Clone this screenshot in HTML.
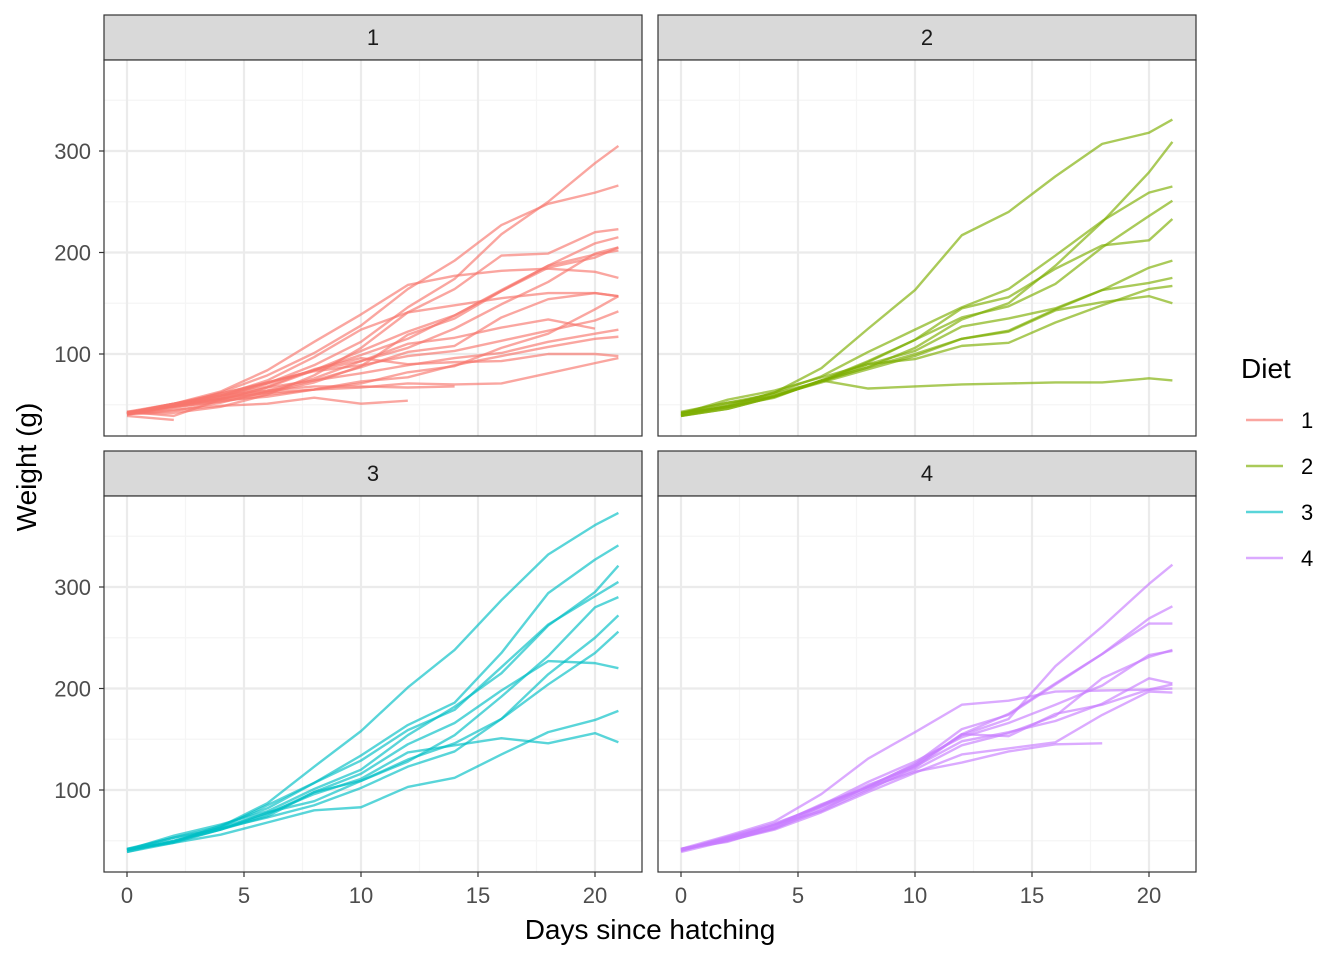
<!DOCTYPE html>
<html><head><meta charset="utf-8"><style>body{margin:0;background:#fff}svg{display:block}text{font-family:"Liberation Sans",sans-serif}</style></head>
<body><svg id="s" width="1344" height="960" xmlns="http://www.w3.org/2000/svg"></svg>
<script>
const D={1:[[42,51,59,64,76,93,106,125,149,171,199,205],[40,49,58,72,84,103,122,138,162,187,209,215],[43,39,55,67,84,99,115,138,163,187,198,202],[42,49,56,67,74,87,102,108,136,154,160,157],[41,42,48,60,79,106,141,164,197,199,220,223],[41,49,59,74,97,124,141,148,155,160,160,157],[41,49,57,71,89,112,146,174,218,250,288,305],[42,50,61,71,84,93,110,116,126,134,125],[42,51,59,68,85,96,90,92,93,100,100,98],[41,44,52,63,74,81,89,96,101,112,120,124],[43,51,63,84,112,139,168,177,182,184,181,175],[41,49,56,62,72,88,119,135,162,185,195,205],[41,48,53,60,65,67,71,70,71,81,91,96],[41,49,62,79,101,128,164,192,227,248,259,266],[41,49,56,64,68,68,67,68],[41,45,49,51,57,51,54],[42,51,61,72,83,89,98,103,113,123,133,142],[39,35],[43,48,55,62,65,71,82,88,106,120,144,157],[41,47,54,58,65,73,77,89,98,107,115,117]],
2:[[40,50,62,86,125,163,217,240,275,307,318,331],[41,55,64,77,90,95,108,111,131,148,164,167],[43,52,61,73,90,103,127,135,145,163,170,175],[42,52,58,74,66,68,70,71,72,72,76,74],[40,49,62,78,102,124,146,164,197,231,259,265],[42,48,57,74,93,114,136,147,169,205,236,251],[39,46,58,73,87,100,115,123,144,163,185,192],[39,46,58,73,92,114,145,156,184,207,212,233],[39,48,59,74,87,106,134,150,187,230,279,309],[42,48,59,72,85,98,115,122,143,151,157,150]],
3:[[42,53,62,73,85,102,123,138,170,204,235,256],[41,49,65,82,107,129,159,179,221,263,291,305],[39,50,63,77,96,111,137,144,151,146,156,147],[41,49,63,85,107,134,164,186,235,294,327,341],[41,53,64,87,123,158,201,238,287,332,361,373],[39,48,61,76,98,116,145,166,198,227,225,220],[41,48,56,68,80,83,103,112,135,157,169,178],[41,49,61,74,98,109,128,154,192,232,280,290],[42,50,61,78,89,109,130,146,170,214,250,272],[41,55,66,79,101,120,154,182,215,262,295,321]],
4:[[42,51,66,85,103,124,155,153,175,184,199,204],[42,49,63,84,103,126,160,174,204,234,269,281],[42,55,69,96,131,157,184,188,197,198,199,200],[42,51,65,86,103,118,127,138,145,146],[41,50,61,78,98,117,135,141,147,174,197,196],[40,52,62,82,101,120,144,156,173,210,231,238],[41,53,66,79,100,123,148,157,168,185,210,205],[39,50,62,80,104,125,154,170,222,261,303,322],[40,53,64,85,108,128,152,166,184,203,233,237],[41,54,67,84,105,122,155,175,205,234,264,264]]};
const T=[0,2,4,6,8,10,12,14,16,18,20,21];
const C={1:"#F8766D",2:"#7CAE00",3:"#00BFC4",4:"#C77CFF"};
let h="";
const P={1:[104,60],2:[658,60],3:[104,496],4:[658,496]};
for(const k of [1,2,3,4]){
 const [x0,y0]=P[k];const W=538,H=376;
 const X=d=>x0+23+d*23.4, Y=w=>y0+294-(w-100)*1.015;
 h+=`<rect x="${x0}" y="${y0-45}" width="${W}" height="45" fill="#D9D9D9" stroke="#333" stroke-width="1.2"/>`;
 h+=`<text x="${x0+W/2}" y="${y0-15}" font-size="22" text-anchor="middle" fill="#1A1A1A">${k}</text>`;
 h+=`<rect x="${x0}" y="${y0}" width="${W}" height="${H}" fill="#fff"/>`;
 for(const d of [2.5,7.5,12.5,17.5])h+=`<line x1="${X(d)}" x2="${X(d)}" y1="${y0}" y2="${y0+H}" stroke="#F5F5F5" stroke-width="1.2"/>`;
 for(const w of [50,150,250,350])h+=`<line x1="${x0}" x2="${x0+W}" y1="${Y(w)}" y2="${Y(w)}" stroke="#F5F5F5" stroke-width="1.2"/>`;
 for(const d of [0,5,10,15,20])h+=`<line x1="${X(d)}" x2="${X(d)}" y1="${y0}" y2="${y0+H}" stroke="#EBEBEB" stroke-width="2.2"/>`;
 for(const w of [100,200,300])h+=`<line x1="${x0}" x2="${x0+W}" y1="${Y(w)}" y2="${Y(w)}" stroke="#EBEBEB" stroke-width="2.2"/>`;
 for(const s of D[k]){h+=`<polyline fill="none" stroke="${C[k]}" stroke-opacity="0.65" stroke-width="2.4" stroke-linejoin="round" points="${s.map((w,i)=>X(T[i])+","+Y(w)).join(" ")}"/>`;}
 h+=`<rect x="${x0}" y="${y0}" width="${W}" height="${H}" fill="none" stroke="#333" stroke-width="1.2"/>`;
 if(k==1||k==3)for(const w of [100,200,300]){h+=`<line x1="${x0-5}" x2="${x0}" y1="${Y(w)}" y2="${Y(w)}" stroke="#333" stroke-width="1.2"/><text x="${x0-13}" y="${Y(w)+8}" font-size="22" text-anchor="end" fill="#4D4D4D">${w}</text>`;}
 if(k==3||k==4)for(const d of [0,5,10,15,20]){h+=`<line x1="${X(d)}" x2="${X(d)}" y1="${y0+H}" y2="${y0+H+5}" stroke="#333" stroke-width="1.2"/><text x="${X(d)}" y="${y0+H+31}" font-size="22" text-anchor="middle" fill="#4D4D4D">${d}</text>`;}
}
h+=`<text x="650" y="939" font-size="28" text-anchor="middle" fill="#000">Days since hatching</text>`;
h+=`<text transform="translate(36,467) rotate(-90)" font-size="28" text-anchor="middle" fill="#000">Weight (g)</text>`;
h+=`<text x="1241" y="378" font-size="28" fill="#000">Diet</text>`;
[1,2,3,4].forEach((k,i)=>{const y=420+i*46;h+=`<line x1="1246" x2="1283" y1="${y}" y2="${y}" stroke="${C[k]}" stroke-opacity="0.65" stroke-width="2.4"/><text x="1301" y="${y+8}" font-size="22" fill="#000">${k}</text>`;});
document.getElementById("s").innerHTML=h;
</script></body></html>
